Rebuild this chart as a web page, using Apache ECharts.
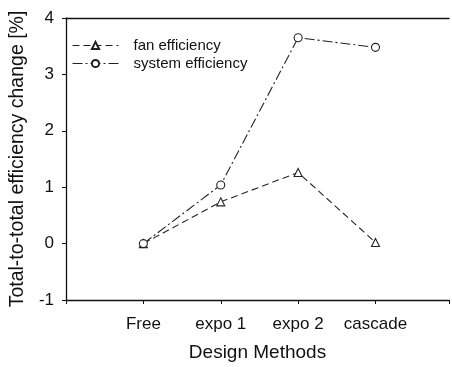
<!DOCTYPE html>
<html><head><meta charset="utf-8">
<script src="https://cdn.jsdelivr.net/npm/echarts@6/dist/echarts.min.js"></script>
<style>html,body{margin:0;padding:0;background:#fff}#c{width:452px;height:367px}</style>
</head><body><div id="c"></div>
<script>
const categories = ["Free", "expo 1", "expo 2", "cascade"];
const fanEfficiency = [0, 0.74, 1.26, 0.02];
const systemEfficiency = [0, 1.04, 3.65, 3.48];
const yTicks = [-1, 0, 1, 2, 3, 4];

const chart = echarts.init(document.getElementById('c'), null, {renderer: 'canvas'});
const font = 'Liberation Sans, Arial, sans-serif';
const ink = '#111';
const toPts = arr => arr.map((v, i) => [i + 1, v]);
chart.setOption({
  animation: false,
  backgroundColor: '#fff',
  grid: {left: 66, top: 18, right: 0, bottom: 65, containLabel: false},
  legend: {
    left: 72, top: 38, padding: 0, orient: 'vertical', itemWidth: 46, itemHeight: 9, itemGap: 3,
    textStyle: {fontFamily: font, fontSize: 15, color: ink, padding: [0, 0, 0, 10]},
    lineStyle: {width: 1},
    data: ['fan efficiency', 'system efficiency']
  },
  xAxis: [{
    type: 'value', min: 0, max: 4.95, interval: 1,
    axisLine: {show: true, onZero: false, lineStyle: {color: ink, width: 1.3}},
    axisTick: {show: true, length: 4, lineStyle: {color: ink}},
    splitLine: {show: false},
    axisLabel: {fontFamily: font, fontSize: 17, color: ink, margin: 16,
      formatter: v => (v >= 1 && v <= categories.length && Number.isInteger(v)) ? categories[v - 1] : ''},
    name: 'Design Methods', nameLocation: 'middle', nameGap: 43,
    nameTextStyle: {fontFamily: font, fontSize: 19, color: ink}
  }, {
    type: 'value', position: 'top', min: 0, max: 4.95,
    axisLine: {show: true, onZero: false, lineStyle: {color: ink, width: 1.3}},
    axisTick: {show: false}, axisLabel: {show: false}, splitLine: {show: false}
  }],
  yAxis: {
    type: 'value', min: yTicks[0], max: yTicks[yTicks.length - 1], interval: 1,
    axisLine: {show: true, onZero: false, lineStyle: {color: ink, width: 1.3}},
    axisTick: {show: true, length: 4, lineStyle: {color: ink}},
    splitLine: {show: false},
    axisLabel: {fontFamily: font, fontSize: 17, color: ink, margin: 12},
    name: 'Total-to-total efficiency change [%]', nameLocation: 'middle', nameGap: 37,
    nameTextStyle: {fontFamily: font, fontSize: 19.5, color: ink}
  },
  series: [{
    name: 'fan efficiency', type: 'line', data: toPts(fanEfficiency),
    symbol: 'triangle', symbolSize: 8,
    itemStyle: {color: '#fff', borderColor: '#222', borderWidth: 1.1},
    lineStyle: {color: '#222', width: 1.1, type: [7, 4]}
  }, {
    name: 'system efficiency', type: 'line', data: toPts(systemEfficiency),
    symbol: 'circle', symbolSize: 8,
    itemStyle: {color: '#fff', borderColor: '#222', borderWidth: 1.1},
    lineStyle: {color: '#222', width: 1.1, type: [10, 3, 2, 3]}
  }]
});
</script></body></html>
